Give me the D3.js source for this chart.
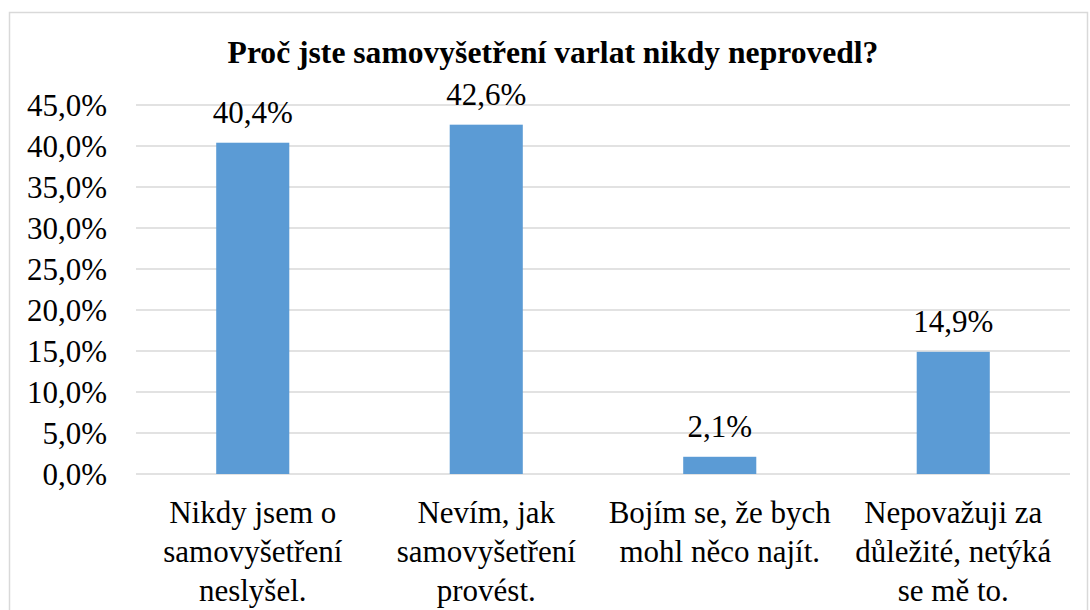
<!DOCTYPE html>
<html><head><meta charset="utf-8">
<script src="https://cdn.jsdelivr.net/npm/d3@7"></script>
<style>
html,body{margin:0;padding:0;background:#fff;}
</style></head>
<body>
<svg id="c" width="1090" height="610"></svg>
<script>
const title = "Proč jste samovyšetření varlat nikdy neprovedl?";
const categories = [
  ["Nikdy jsem o", "samovyšetření", "neslyšel."],
  ["Nevím, jak", "samovyšetření", "provést."],
  ["Bojím se, že bych", "mohl něco najít."],
  ["Nepovažuji za", "důležité, netýká", "se mě to."]
];
const values = [40.4, 42.6, 2.1, 14.9];
const yTicks = [0, 5, 10, 15, 20, 25, 30, 35, 40, 45];

(function () {
const svg = d3.select("#c");
const fmt = v => v.toFixed(1).replace(".", ",") + "%";
const FF = "Liberation Serif";
const FS = 31;

// chart border
svg.append("rect").attr("x", 9.5).attr("y", 12.5).attr("width", 1078).attr("height", 640)
  .attr("fill", "none").attr("stroke", "#d9d9d9").attr("stroke-width", 1.5);

const mLeft = 136, mRight = 1070, mTop = 105, mBottom = 474;
const x = d3.scaleBand().domain(d3.range(categories.length)).range([mLeft, mRight]).paddingInner(0.687).paddingOuter(0.3435);
const y = d3.scaleLinear().domain([0, 45]).range([mBottom, mTop]);

// gridlines
svg.append("g").selectAll("line").data(yTicks).join("line")
  .attr("x1", mLeft).attr("x2", mRight)
  .attr("y1", d => y(d)).attr("y2", d => y(d))
  .attr("stroke", "#d9d9d9").attr("stroke-width", 1.5);

// y axis labels
const yAxis = d3.axisLeft(y).tickValues(yTicks).tickFormat(fmt).tickSize(0).tickPadding(0);
const ga = svg.append("g").attr("transform", `translate(107,0)`).call(yAxis)
  .attr("font-family", FF).attr("font-size", FS);
ga.select(".domain").remove();
ga.selectAll("text").attr("fill", "#000").attr("dy", "0.35em");

// bars
svg.append("g").selectAll("rect").data(values).join("rect")
  .attr("x", (d, i) => x(i)).attr("width", x.bandwidth())
  .attr("y", d => y(d)).attr("height", d => y(0) - y(d))
  .attr("fill", "#5b9bd5");

// data labels
svg.append("g").selectAll("text").data(values).join("text")
  .attr("font-family", FF).attr("font-size", FS).attr("fill", "#000")
  .attr("x", (d, i) => x(i) + x.bandwidth() / 2)
  .attr("y", d => y(d) - 19.5)
  .attr("text-anchor", "middle")
  .text(fmt);

// category labels
const cg = svg.append("g").selectAll("text").data(categories).join("text")
  .attr("font-family", FF).attr("font-size", FS).attr("fill", "#000")
  .attr("text-anchor", "middle");
cg.selectAll("tspan").data((d, i) => d.map(t => ({t, i}))).join("tspan")
  .attr("x", d => x(d.i) + x.bandwidth() / 2)
  .attr("y", (d, j) => 523 + j * 39)
  .text(d => d.t);

// title
svg.append("text").attr("x", 553).attr("y", 63).attr("text-anchor", "middle")
  .attr("font-family", FF).attr("fill", "#000")
  .attr("font-size", 31.6).attr("font-weight", "bold").text(title);
})();
</script>
</body></html>
